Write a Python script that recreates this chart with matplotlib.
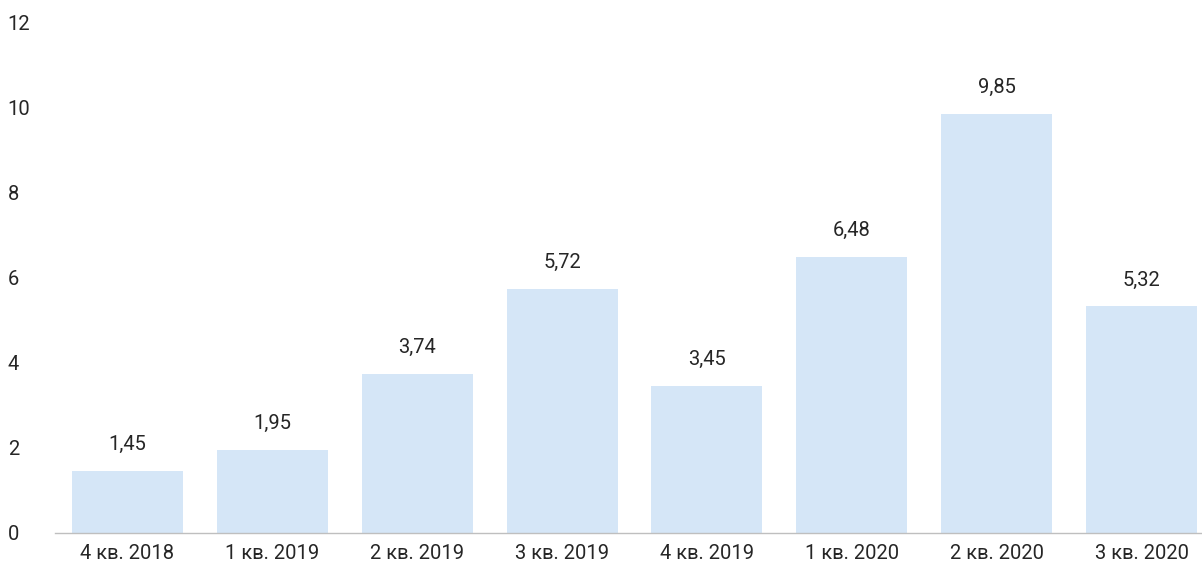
import matplotlib.pyplot as plt
import numpy as np

plt.rcParams['font.family'] = ['Roboto', 'DejaVu Sans']

categories = ['4 кв. 2018', '1 кв. 2019', '2 кв. 2019', '3 кв. 2019',
              '4 кв. 2019', '1 кв. 2020', '2 кв. 2020', '3 кв. 2020']
values = [1.45, 1.95, 3.74, 5.72, 3.45, 6.48, 9.85, 5.32]

fig = plt.figure(figsize=(12.02, 5.65), dpi=100)
# правый край графика обрезан, поэтому оси выходят за пределы фигуры
ax = fig.add_axes([55 / 1202, 1 - 533 / 565, 1159 / 1202, (533 - 22) / 565])

x = np.arange(len(categories))
ax.bar(x, values, width=0.767, color='#d5e6f7')

for xi, v in zip(x, values):
    ax.text(xi, v + 0.4, f'{v:.2f}'.replace('.', ','), ha='center', va='bottom',
            fontsize=14.5, color='#262626')

ax.set_xlim(-0.5, len(categories) - 0.5)
ax.set_ylim(0, 12)
ax.set_yticks(range(0, 13, 2))
ax.set_xticks(x)
ax.set_xticklabels(categories)
ax.tick_params(axis='both', length=0, labelsize=14.5, labelcolor='#262626')
ax.tick_params(axis='y', pad=34)
ax.tick_params(axis='x', pad=8)
for lbl in ax.get_yticklabels():
    lbl.set_horizontalalignment('left')

for s in ['top', 'right', 'left']:
    ax.spines[s].set_visible(False)
ax.spines['bottom'].set_color('#bfbfbf')
ax.spines['bottom'].set_linewidth(1)

fig.savefig('out.png', dpi=100, facecolor='white')
